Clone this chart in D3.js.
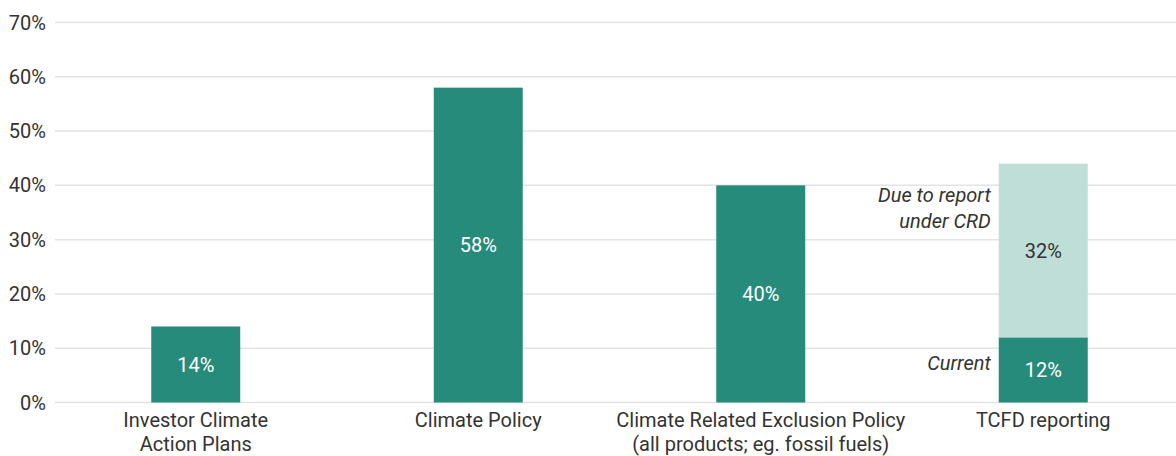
<!DOCTYPE html>
<html>
<head>
<meta charset="utf-8">
<script src="https://cdn.jsdelivr.net/npm/d3@7"></script>
<style>
  body { margin: 0; background: #fff; }
  text { font-family: Roboto, "Noto Sans", sans-serif; fill: #333; font-size: 20px; }
</style>
</head>
<body>
<script>
const width = 1176;
const height = 456;

const categories = [
  ['Investor Climate', 'Action Plans'],
  ['Climate Policy'],
  ['Climate Related Exclusion Policy', '(all products; eg. fossil fuels)'],
  ['TCFD reporting']
];
const current = [14, 58, 40, 12];
const dueUnderCRD = [0, 0, 0, 32];
const yTicks = [0, 10, 20, 30, 40, 50, 60, 70];

const dark = '#268b7b';
const light = '#bfded8';

const svg = d3.select('body').append('svg')
  .attr('width', width)
  .attr('height', height);

const y = d3.scaleLinear()
  .domain([0, 70])
  .range([402.5, 22.5]);

const x = d3.scaleBand()
  .domain(d3.range(categories.length))
  .range([54.5, 1184.5])
  .paddingInner(0.685)
  .paddingOuter(0.3425);

// gridlines
svg.append('g').selectAll('line')
  .data(yTicks)
  .enter()
  .append('line')
  .attr('x1', 55)
  .attr('x2', width)
  .attr('y1', d => y(d))
  .attr('y2', d => y(d))
  .style('stroke', '#e3e3e3')
  .style('stroke-width', 1.5);

svg.append('g').selectAll('text')
  .data(yTicks)
  .enter()
  .append('text')
  .text(d => d + '%')
  .attr('x', 46)
  .attr('y', d => y(d))
  .attr('dy', '0.35em')
  .attr('text-anchor', 'end');

// current bars
svg.append('g').selectAll('rect')
  .data(current)
  .enter()
  .append('rect')
  .attr('x', (d, i) => x(i))
  .attr('width', x.bandwidth())
  .attr('y', d => y(d))
  .attr('height', d => y(0) - y(d))
  .style('fill', dark);

// stacked "due to report" segment
svg.append('g').selectAll('rect')
  .data(dueUnderCRD)
  .enter()
  .filter(d => d > 0)
  .append('rect')
  .attr('x', (d, i) => x(3))
  .attr('width', x.bandwidth())
  .attr('y', d => y(d + current[3]))
  .attr('height', d => y(current[3]) - y(d + current[3]))
  .style('fill', light);

// value labels
svg.append('g').selectAll('text')
  .data(current)
  .enter()
  .append('text')
  .text(d => d + '%')
  .attr('x', (d, i) => x(i) + x.bandwidth() / 2)
  .attr('y', d => (y(0) + y(d)) / 2)
  .attr('dy', '0.35em')
  .attr('text-anchor', 'middle')
  .style('fill', '#fff');

svg.append('text')
  .text(dueUnderCRD[3] + '%')
  .attr('x', x(3) + x.bandwidth() / 2)
  .attr('y', (y(current[3]) + y(current[3] + dueUnderCRD[3])) / 2)
  .attr('dy', '0.35em')
  .attr('text-anchor', 'middle');

// annotations
const noteX = x(3) - 8;
svg.append('text')
  .attr('x', noteX)
  .attr('y', 195)
  .attr('dy', '0.35em')
  .attr('text-anchor', 'end')
  .style('font-style', 'italic')
  .text('Due to report');
svg.append('text')
  .attr('x', noteX)
  .attr('y', 221)
  .attr('dy', '0.35em')
  .attr('text-anchor', 'end')
  .style('font-style', 'italic')
  .text('under CRD');
svg.append('text')
  .attr('x', noteX)
  .attr('y', (y(0) + y(current[3])) / 2 - 7)
  .attr('dy', '0.35em')
  .attr('text-anchor', 'end')
  .style('font-style', 'italic')
  .text('Current');

// category labels
const catLabels = svg.append('g').selectAll('text')
  .data(categories)
  .enter()
  .append('text')
  .attr('text-anchor', 'middle');

catLabels.selectAll('tspan')
  .data((d, i) => d.map(t => ({t: t, i: i})))
  .enter()
  .append('tspan')
  .attr('x', d => x(d.i) + x.bandwidth() / 2)
  .attr('y', (d, j) => 427 + j * 23.5)
  .text(d => d.t);
</script>
</body>
</html>
